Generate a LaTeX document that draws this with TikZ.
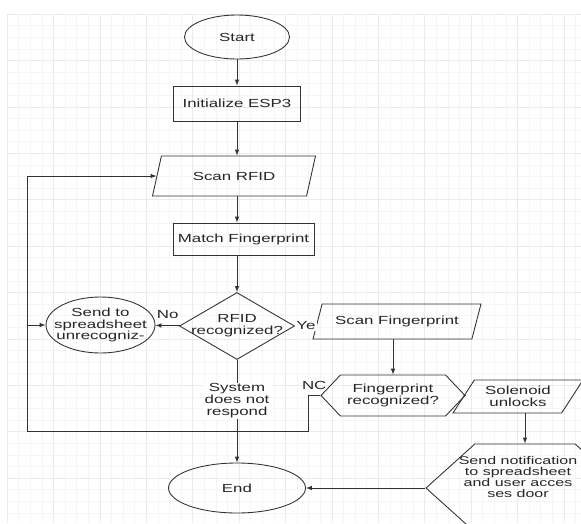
\documentclass[tikz,border=0pt]{standalone}
\usepackage{fontspec}
\setmainfont{Liberation Sans}[FakeStretch=1.44]
\usetikzlibrary{shapes.geometric, shapes.symbols, positioning, arrows}

\tikzset{
	every node/.style={font=\fontsize{10}{10.2}\selectfont, text=black!85},
	flow/.style={draw=black!80, line width=0.75pt},
	terminal/.style={flow, ellipse, inner sep=0pt},
	process/.style={flow, rectangle},
	io/.style={flow, trapezium, trapezium stretches body},
	decision/.style={flow, diamond, inner sep=0pt},
	hexa/.style={flow, signal, signal to=west and east, inner sep=0pt},
	line/.style={black!80, line width=0.75pt},
	gridminor/.style={black!4, line width=0.4pt},
	gridmajor/.style={black!8, line width=0.5pt},
}

\begin{document}
\begin{tikzpicture}[x=0.03cm, y=-0.03cm, >=latex]
	% canvas and grid
	\useasboundingbox (0,0) rectangle (581,523);
	\clip (0,0) rectangle (581,523);
	\fill[white] (0,0) rectangle (581,523);
	\foreach \gx in {0,...,49}
		\draw[gridminor] ({7+11.6*\gx},14) -- ({7+11.6*\gx},523);
	\foreach \gy in {0,...,43}
		\draw[gridminor] (7,{14+11.6*\gy}) -- (581,{14+11.6*\gy});
	\foreach \gx in {0,...,12}
		\draw[gridmajor] ({7+46.4*\gx},14) -- ({7+46.4*\gx},523);
	\foreach \gy in {0,...,10}
		\draw[gridmajor] (7,{14+46.4*\gy}) -- (581,{14+46.4*\gy});

	% shapes
	\node (start) [terminal, minimum width=3.15cm, minimum height=1.32cm] at (237,37) {Start};
	\node (init) [process, minimum width=3.81cm, minimum height=1.05cm] at (237,103.5) {Initialize ESP3};
	\node (scanrfid) [io, trapezium left angle=61, trapezium right angle=119, minimum width=4.89cm, minimum height=1.2cm] at (234,176) {Scan RFID};
	\node (match) [process, minimum width=4.23cm, minimum height=0.96cm] at (243.5,239) {Match Fingerprint};
	\node (rfid) [decision, minimum width=3.45cm, minimum height=2.01cm] at (237,326) {};
	\node (rfidtxt) [align=center] at (rfid) {RFID\\recognized?};
	\node (send) [terminal, minimum width=3.27cm, minimum height=1.68cm] at (100.5,325) {};
	\node (sendtxt) [align=center] at (send) {Send to\\spreadsheet\\unrecogniz-};
	\node (scanfp) [io, trapezium left angle=64, trapezium right angle=116, minimum width=5.04cm, minimum height=1.05cm] at (397,321.5) {Scan Fingerprint};
	\node (fphex) [hexa, signal pointer angle=93, minimum width=4.32cm, minimum height=1.23cm] at (393,395.5) {};
	\node (fphextxt) [align=center] at (fphex) {Fingerprint\\recognized?};
	\node (solenoid) [io, trapezium left angle=53, trapezium right angle=127, minimum width=3.9cm, minimum height=0.99cm, align=center] at (518,396.5) {Solenoid\\unlocks};
	\node (notify) [hexa, signal pointer angle=84, minimum width=5.94cm, minimum height=2.64cm] at (525,488) {};
	\node (notifytxt) [align=center, font=\fontsize{9.5}{9.6}\selectfont] at (518,477) {Send notification\\to spreadsheet\\and user acces\\ses door};
	\node (end) [terminal, minimum width=4.11cm, minimum height=1.5cm] at (237,488) {End};
	\coordinate (nc) at (308,395.5);
	\coordinate (loopbl) at (27,431);

	% connectors
	\path[line, ->]
		(start) edge (init)
		(init.south) edge (init.south |- scanrfid.north)
		(scanrfid.south -| rfid) edge (match.north -| rfid)
		(match.south -| rfid) edge (rfid)
		(rfid) edge node[above=2pt] {No} (send)
		(rfid) edge node[pos=.4, fill=white, align=center, inner sep=1pt] {System\\does not\\respond} (end)
		(scanfp.south -| fphex) edge (fphex)
		(solenoid.south -| notify) edge (notify)
		(notify.west) edge (end)
		(loopbl |- send) edge (send)
	;
	\draw[line] (rfid.east) -- node[fill=white, inner sep=1pt] {Ye} (rfid.east -| scanfp.west);
	\draw[line] (fphex.east) -- (solenoid.west);
	\draw[line, ->] (fphex.west) -- node[above=1pt] {NC} (nc) |- (loopbl) |- (scanrfid.west);
\end{tikzpicture}
\end{document}
